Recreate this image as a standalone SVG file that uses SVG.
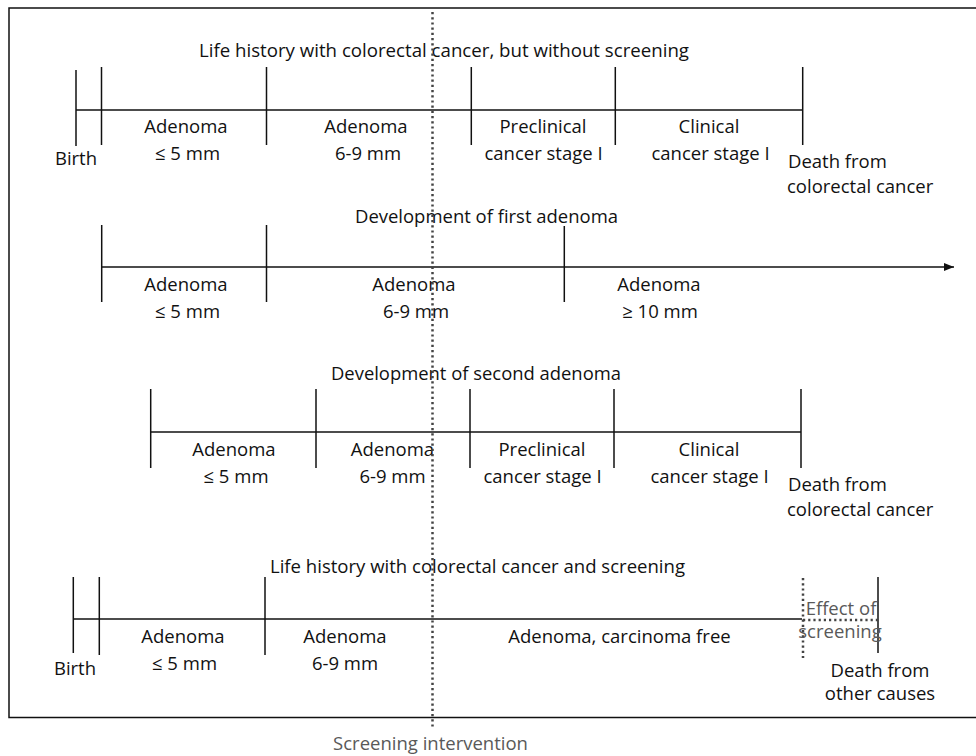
<svg xmlns="http://www.w3.org/2000/svg" width="976" height="756" viewBox="0 0 976 756">
  <defs>
    <style>
      .ln { stroke: #111; stroke-width: 1.5; fill: none; }
      .dot { stroke: #444; stroke-width: 2.5; stroke-dasharray: 2.2 3; fill: none; }
      text { font-family: "Open Sans", "Noto Sans", "Liberation Sans", sans-serif; font-size: 18.5px; fill: #111; }
      .c { text-anchor: middle; }
      .g { fill: #595959; }
    </style>
    <marker id="arr" markerWidth="10" markerHeight="8" refX="10" refY="4" orient="auto" markerUnits="userSpaceOnUse">
      <path d="M0,0 L10,4 L0,8 Z" fill="#111"/>
    </marker>
  </defs>

  <rect id="frame" x="9" y="8" width="975" height="709.5" fill="#fff" stroke="#111" stroke-width="1.5"/>

  <!-- Timeline 1 -->
  <g id="timeline-no-screening">
    <text class="c" x="444" y="57" textLength="490" lengthAdjust="spacingAndGlyphs">Life history with colorectal cancer, but without screening</text>
    <line class="ln" x1="76" y1="110" x2="802.7" y2="110"/>
    <line class="ln" x1="76" y1="70" x2="76" y2="146"/>
    <line class="ln" x1="101.5" y1="67" x2="101.5" y2="145"/>
    <line class="ln" x1="266.5" y1="67" x2="266.5" y2="145"/>
    <line class="ln" x1="471.3" y1="67" x2="471.3" y2="145"/>
    <line class="ln" x1="615.3" y1="67" x2="615.3" y2="145"/>
    <line class="ln" x1="802.7" y1="67" x2="802.7" y2="145"/>
    <text class="c" x="76" y="165">Birth</text>
    <text class="c" x="186" y="133">Adenoma</text>
    <text class="c" x="187.5" y="160">≤ 5 mm</text>
    <text class="c" x="366" y="133">Adenoma</text>
    <text class="c" x="368" y="160">6-9 mm</text>
    <text class="c" x="543" y="133">Preclinical</text>
    <text class="c" x="543.5" y="160">cancer stage I</text>
    <text class="c" x="709" y="133">Clinical</text>
    <text class="c" x="710.5" y="160">cancer stage I</text>
    <text x="788" y="168">Death from</text>
    <text x="787" y="193">colorectal cancer</text>
  </g>

  <!-- Timeline 2 -->
  <g id="timeline-first-adenoma">
    <text class="c" x="486.5" y="223" textLength="263" lengthAdjust="spacingAndGlyphs">Development of first adenoma</text>
    <line class="ln" x1="101.7" y1="267" x2="954" y2="267" marker-end="url(#arr)"/>
    <line class="ln" x1="101.7" y1="225" x2="101.7" y2="302"/>
    <line class="ln" x1="266.5" y1="225" x2="266.5" y2="302"/>
    <line class="ln" x1="564.3" y1="226" x2="564.3" y2="302"/>
    <text class="c" x="186" y="291">Adenoma</text>
    <text class="c" x="187.5" y="318">≤ 5 mm</text>
    <text class="c" x="414" y="291">Adenoma</text>
    <text class="c" x="416" y="318">6-9 mm</text>
    <text class="c" x="659" y="291">Adenoma</text>
    <text class="c" x="660" y="318">≥ 10 mm</text>
  </g>

  <!-- Timeline 3 -->
  <g id="timeline-second-adenoma">
    <text class="c" x="476" y="380" textLength="290" lengthAdjust="spacingAndGlyphs">Development of second adenoma</text>
    <line class="ln" x1="150.7" y1="432" x2="801" y2="432"/>
    <line class="ln" x1="150.7" y1="389" x2="150.7" y2="468"/>
    <line class="ln" x1="316" y1="389" x2="316" y2="468"/>
    <line class="ln" x1="470" y1="389" x2="470" y2="468"/>
    <line class="ln" x1="614" y1="389" x2="614" y2="468"/>
    <line class="ln" x1="801" y1="389" x2="801" y2="468"/>
    <text class="c" x="234" y="456">Adenoma</text>
    <text class="c" x="236" y="483">≤ 5 mm</text>
    <text class="c" x="392.5" y="456">Adenoma</text>
    <text class="c" x="392.5" y="483">6-9 mm</text>
    <text class="c" x="542" y="456">Preclinical</text>
    <text class="c" x="542.5" y="483">cancer stage I</text>
    <text class="c" x="709" y="456">Clinical</text>
    <text class="c" x="709.5" y="483">cancer stage I</text>
    <text x="788" y="491">Death from</text>
    <text x="787" y="516">colorectal cancer</text>
  </g>

  <!-- Timeline 4 -->
  <g id="timeline-with-screening">
    <text class="c" x="477.5" y="573" textLength="415" lengthAdjust="spacingAndGlyphs">Life history with colorectal cancer and screening</text>
    <line class="ln" x1="73.3" y1="619" x2="802" y2="619"/>
    <line class="ln" x1="73.3" y1="577" x2="73.3" y2="653"/>
    <line class="ln" x1="99.3" y1="577" x2="99.3" y2="655"/>
    <line class="ln" x1="265" y1="577" x2="265" y2="655"/>
    <line class="ln" x1="878" y1="577" x2="878" y2="653"/>
    <text class="c" x="75" y="675">Birth</text>
    <text class="c" x="183" y="643">Adenoma</text>
    <text class="c" x="184.5" y="670">≤ 5 mm</text>
    <text class="c" x="345" y="643">Adenoma</text>
    <text class="c" x="345" y="670">6-9 mm</text>
    <text class="c" x="619.5" y="643">Adenoma, carcinoma free</text>
    <text class="c" x="880" y="677">Death from</text>
    <text class="c" x="880" y="700">other causes</text>
  </g>

  <!-- Effect of screening -->
  <g id="effect-of-screening">
    <line class="dot" x1="803" y1="578" x2="803" y2="658" stroke-width="2.2"/>
    <line class="dot" x1="803" y1="620" x2="880" y2="620" stroke-width="2.2"/>
    <text class="c g" x="841" y="615">Effect of</text>
    <text class="c g" x="840" y="638">screening</text>
  </g>

  <!-- Connectors: screening intervention -->
  <g id="connectors">
    <line class="dot" x1="432.5" y1="12" x2="432.5" y2="729"/>
  </g>
  <g id="screening-intervention">
    <text class="c g" x="430.5" y="750">Screening intervention</text>
  </g>
</svg>
